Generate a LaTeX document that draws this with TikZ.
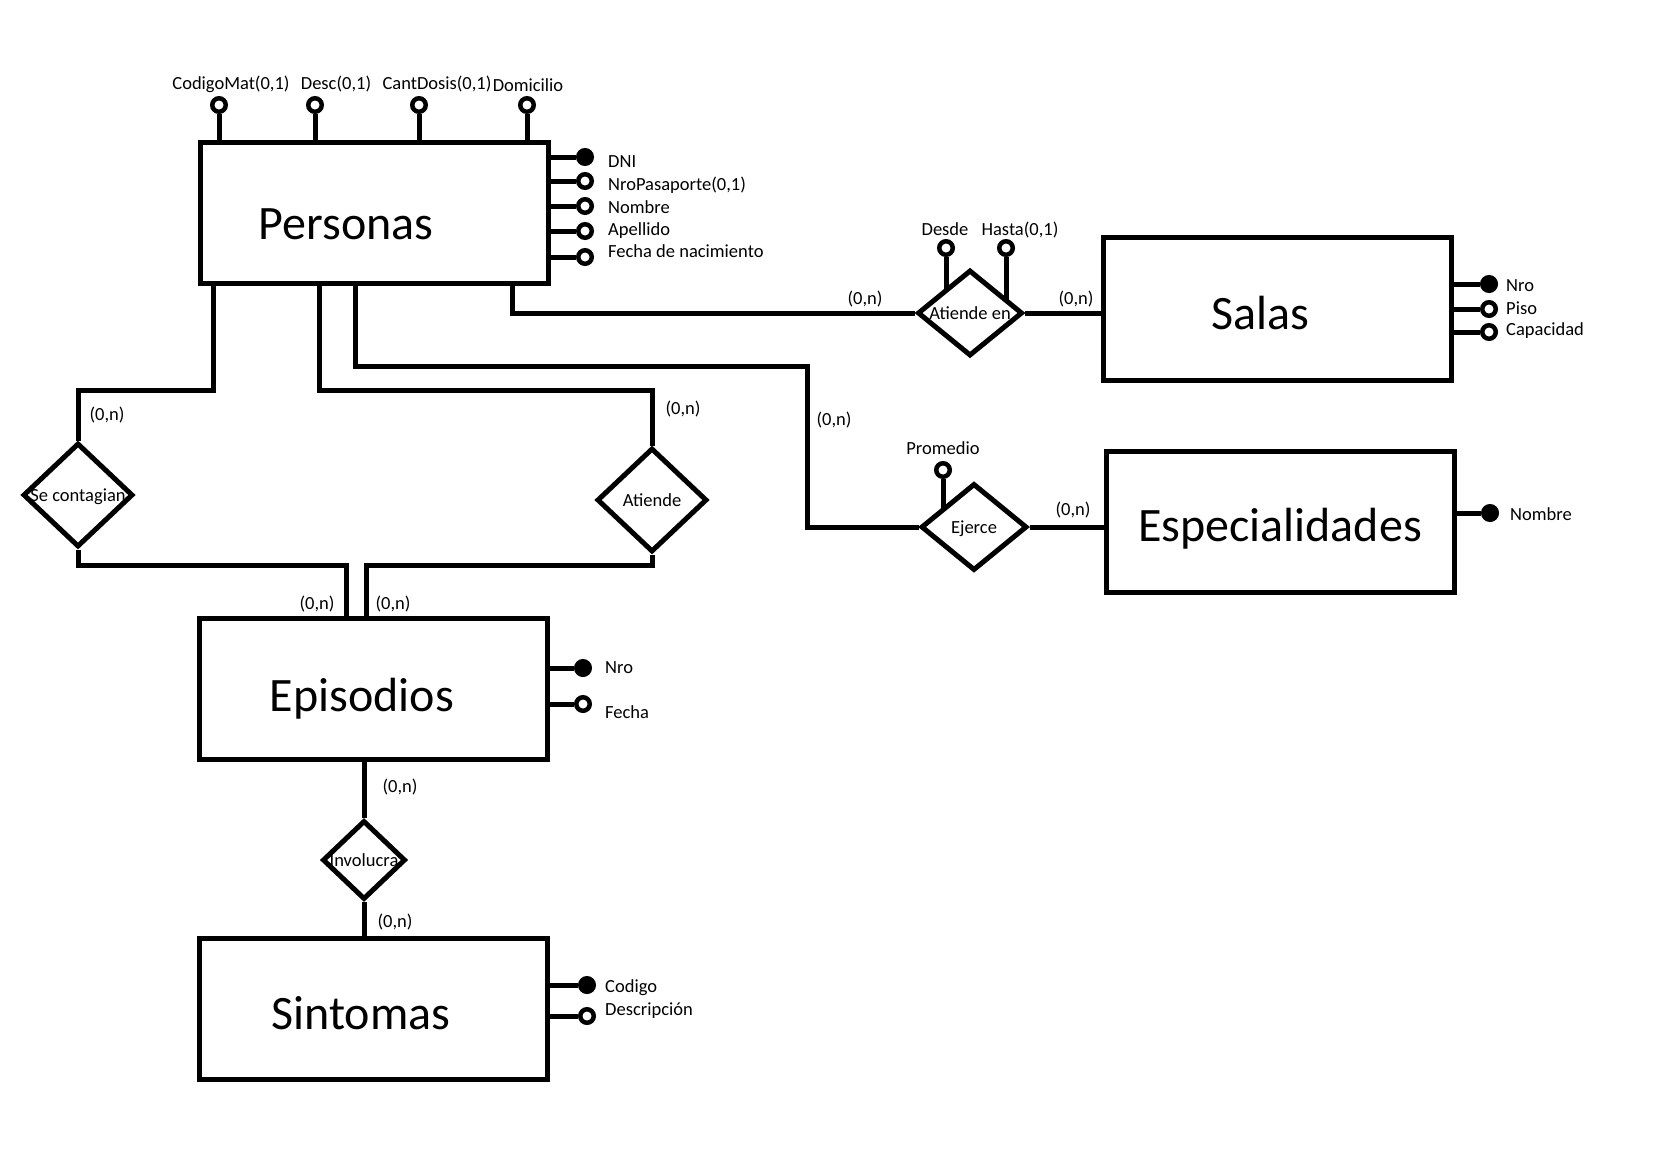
\documentclass[tikz,border=0pt]{standalone}
\usepackage{fontspec}
\setmainfont{Carlito}
\usetikzlibrary{shapes.geometric,backgrounds}

\begin{document}
\begin{tikzpicture}[x=1pt,y=-1pt,
  entidad/.style={draw,line width=5pt,fill=white,minimum width=348pt,minimum height=141pt,inner sep=0pt},
  nombre/.style={anchor=base,inner sep=0pt,font=\fontsize{48}{52}\selectfont},
  relacion/.style={draw,diamond,line width=5pt,fill=white,inner sep=0pt,text height=12pt,text depth=0pt,font=\fontsize{18.5}{20}\selectfont},
  atr/.style={draw,circle,line width=4.5pt,fill=white,minimum size=13.5pt,inner sep=0pt},
  atrclave/.style={atr,fill=black},
  txt/.style={anchor=base west,inner sep=0pt,font=\fontsize{18.5}{20}\selectfont},
  card/.style={anchor=base,inner sep=0pt,font=\fontsize{18.5}{20}\selectfont},
  con/.style={line width=5pt}]

\useasboundingbox (0,0) rectangle (1671,1160);

\node[entidad] (pers)  at (374.5,212.5) {};
\node[entidad,minimum height=143pt] (salas) at (1277,308.5) {};
\node[entidad] (esp)   at (1280.5,522) {};
\node[entidad] (epis)  at (373.5,688.5) {};
\node[entidad] (sint)  at (373.5,1009) {};

\node[nombre] (perst)  at (346,239)  {Personas};
\node[nombre] (salast) at (1260,329) {Salas};
\node[nombre] (espt)   at (1280,541) {Especialidades};
\node[nombre] (epist)  at (362,711)  {Episodios};
\node[nombre] (sintt)  at (361,1029) {Sintomas};

\node[relacion,minimum width=110pt,minimum height=104pt] (secont)  at (78,495)  {\makebox[0pt]{Se contagian}};
\node[relacion,minimum width=110pt,minimum height=104pt] (atiende) at (652,500) {\makebox[0pt]{Atiende}};
\node[relacion,minimum width=105pt,minimum height=86pt]  (aten)    at (970,313) {\makebox[0pt]{Atiende en}};
\node[relacion,minimum width=106pt,minimum height=87pt]  (ejerce)  at (974,527) {\makebox[0pt]{Ejerce}};
\node[relacion,minimum width=83pt,minimum height=79pt]   (invol)   at (364,860) {\makebox[0pt]{Involucra}};

\node[atr] (codmat) at (219,105) {};
\node[atr] (desc)   at (315,105) {};
\node[atr] (dosis)  at (419,105) {};
\node[atr] (domic)  at (527,105) {};
\node[card] (codmatt) at (231,89) {CodigoMat(0,1)};
\node[card] (desct)   at (336,89) {Desc(0,1)};
\node[card] (dosist)  at (437,89) {CantDosis(0,1)};
\node[card] (domict)  at (528,91) {Domicilio};

\node[atrclave] (dni) at (585,157) {};
\node[atr] (pasap)    at (585,181) {};
\node[atr] (nom)      at (585,206) {};
\node[atr] (ape)      at (585,231) {};
\node[atr] (fnac)     at (585,257) {};
\node[txt] (dnit)   at (608,167) {DNI};
\node[txt] (pasapt) at (608,190) {NroPasaporte(0,1)};
\node[txt] (nomt)   at (608,213) {Nombre};
\node[txt] (apet)   at (608,235) {Apellido};
\node[txt] (fnact)  at (608,257) {Fecha de nacimiento};

\node[atrclave] (snro) at (1489,284) {};
\node[atr] (piso)      at (1489,309) {};
\node[atr] (capac)     at (1489,332) {};
\node[txt] (snrot)  at (1506,291) {Nro};
\node[txt] (pisot)  at (1506,314) {Piso};
\node[txt] (capact) at (1506,335) {Capacidad};

\node[atrclave] (enom) at (1490,513) {};
\node[txt] (enomt) at (1510,520) {Nombre};

\node[atrclave] (epnro) at (583,668) {};
\node[atr] (fecha)      at (583,704) {};
\node[txt] (epnrot)  at (605,673) {Nro};
\node[txt] (fechat)  at (605,718) {Fecha};

\node[atrclave] (cod) at (587,985) {};
\node[atr] (descr)    at (587,1016) {};
\node[txt] (codt)   at (605,992)  {Codigo};
\node[txt] (descrt) at (605,1015) {Descripción};

\node[atr] (desde) at (946,248) {};
\node[atr] (hasta) at (1006,248) {};
\node[card] (desdet) at (945,235) {Desde};
\node[card] (hastat) at (1020,235) {Hasta(0,1)};

\node[atr] (prom) at (943,470) {};
\node[card] (promt) at (943,454) {Promedio};

\node[card] (c1)  at (107,420) {(0,n)};
\node[card] (c2)  at (683,414) {(0,n)};
\node[card] (c3)  at (865,304) {(0,n)};
\node[card] (c4)  at (1076,304) {(0,n)};
\node[card] (c5)  at (834,425) {(0,n)};
\node[card] (c6)  at (1073,515) {(0,n)};
\node[card] (c7)  at (317,609) {(0,n)};
\node[card] (c8)  at (393,609) {(0,n)};
\node[card] (c9)  at (400,792) {(0,n)};
\node[card] (c10) at (395,927) {(0,n)};

\coordinate (pb1) at (213,390);
\coordinate (pb2) at (319,390);
\coordinate (pb3) at (355,366);
\coordinate (pb5) at (512,313);
\coordinate (ejb) at (807,527);
\coordinate (eb1) at (346,565);
\coordinate (eb2) at (366,565);

\begin{scope}[on background layer]
\draw[con] (pb1 |- pers.south) -- (pb1) -| (secont);
\draw[con] (secont) |- (eb1) -- (eb1 |- epis.north);
\draw[con] (pb2 |- pers.south) -- (pb2) -| (atiende);
\draw[con] (atiende) |- (eb2) -- (eb2 |- epis.north);
\draw[con] (pb3 |- pers.south) -- (pb3) -| (ejb) -- (ejerce);
\draw[con] (pb5 |- pers.south) -- (pb5) -- (aten);
\draw[con] (aten) -- (aten -| salas.west);
\draw[con] (ejerce) -- (ejerce -| esp.west);
\draw[con] (invol |- epis.south) -- (invol) -- (invol |- sint.north);

\foreach \a in {codmat,desc,dosis,domic}
  \draw[con] (\a) -- (\a |- pers.north);
\foreach \a in {dni,pasap,nom,ape,fnac}
  \draw[con] (\a) -- (\a -| pers.east);
\foreach \a in {snro,piso,capac}
  \draw[con] (\a) -- (\a -| salas.east);
\draw[con] (enom) -- (enom -| esp.east);
\foreach \a in {epnro,fecha}
  \draw[con] (\a) -- (\a -| epis.east);
\foreach \a in {cod,descr}
  \draw[con] (\a) -- (\a -| sint.east);
\draw[con] (desde) -- (desde |- aten);
\draw[con] (hasta) -- (hasta |- aten);
\draw[con] (prom) -- (prom |- ejerce);
\end{scope}
\end{tikzpicture}
\end{document}
